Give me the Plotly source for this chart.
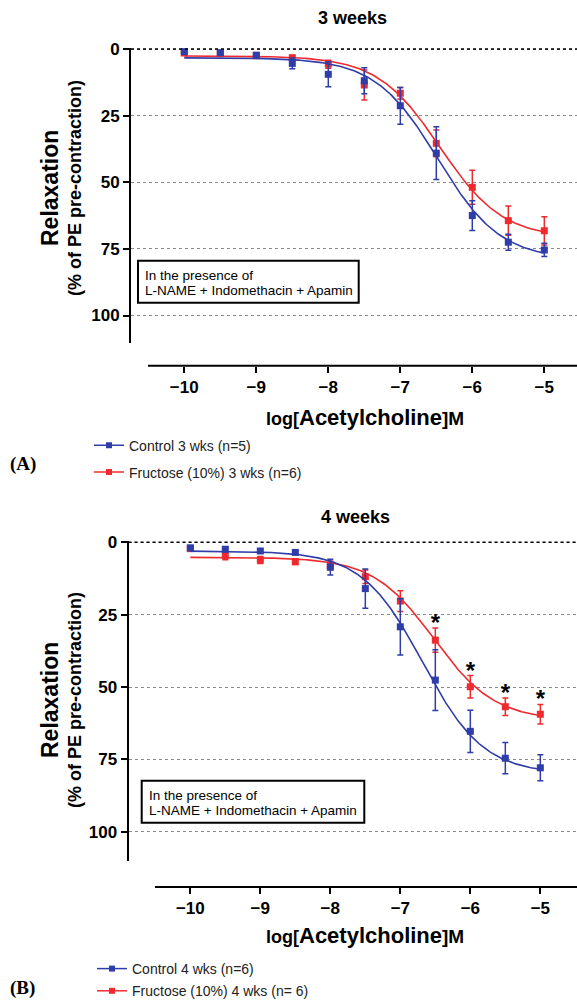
import numpy as np
import plotly.graph_objects as go

W, H = 577, 1001
FONT = "Liberation Sans, Arial, sans-serif"
BLUE = "#2E3DA8"
RED = "#EE2A2F"

# ---------------- data ----------------
conc = [-10, -9.5, -9, -8.5, -8, -7.5, -7, -6.5, -6, -5.5, -5]
xticks = [-10, -9, -8, -7, -6, -5]
yticks = [0, 25, 50, 75, 100]

ctrl3_mean = [1.0, 1.4, 2.3, 5.4, 9.5, 11.9, 21.3, 39.1, 62.5, 72.5, 75.4]
ctrl3_sem = [0.8, 0.8, 0.8, 2.0, 4.7, 4.9, 6.9, 9.9, 5.6, 3.0, 2.5]
fruc3_mean = [1.5, 1.8, 2.5, 3.3, 5.7, 13.5, 16.6, 35.4, 51.9, 64.4, 68.2]
fruc3_sem = [0.8, 0.8, 0.8, 1.0, 1.5, 5.6, 2.2, 5.0, 6.4, 5.5, 5.3]

ctrl4_mean = [1.9, 2.4, 3.0, 3.5, 8.6, 16.0, 29.2, 47.6, 65.3, 74.6, 77.9]
ctrl4_sem = [0.6, 0.6, 0.6, 0.6, 2.7, 6.8, 9.7, 10.5, 7.3, 5.4, 4.5]
fruc4_mean = [2.2, 4.6, 6.1, 6.7, 8.0, 11.9, 20.3, 33.8, 49.9, 56.8, 59.4]
fruc4_sem = [0.6, 1.4, 1.2, 1.0, 1.5, 2.3, 3.6, 4.2, 3.9, 3.05, 3.4]

# sigmoidal fit parameters (top, bottom, logEC50, hill)
ctrl3_fit = [3.3, 79.0, -6.48, 1.0]
fruc3_fit = [2.6, 71.0, -6.45, 1.0]
ctrl4_fit = [3.0, 80.0, -6.68, 1.0]
fruc4_fit = [5.2, 61.5, -6.52, 1.0]

sig4_idx = [7, 8, 9, 10]  # significant points (*) in 4 weeks panel

labels3 = ["Control 3 wks (n=5)", "Fructose (10%) 3 wks (n=6)"]
labels4 = ["Control 4 wks (n=6)", "Fructose (10%) 4 wks (n= 6)"]


def fit_curve(p, xs):
    top, bottom, ec50, hill = p
    xs = np.asarray(xs)
    return top + (bottom - top) / (1 + 10 ** ((ec50 - xs) * hill))


xfit = np.linspace(min(conc), max(conc), 300)

fig = go.Figure()


def add_panel(fig, xa, ya, c_mean, c_sem, f_mean, f_sem, c_fit, f_fit, labels, legend):
    for mean, sem, fit, color in [(f_mean, f_sem, f_fit, RED), (c_mean, c_sem, c_fit, BLUE)]:
        fig.add_trace(go.Scatter(x=xfit, y=fit_curve(fit, xfit), mode="lines",
                                 line=dict(color=color, width=1.6), xaxis=xa, yaxis=ya,
                                 showlegend=False, hoverinfo="skip"))
        fig.add_trace(go.Scatter(x=conc, y=mean, mode="markers",
                                 marker=dict(symbol="square", size=7, color=color),
                                 error_y=dict(type="data", array=sem, color=color,
                                              thickness=1.5, width=3),
                                 xaxis=xa, yaxis=ya, showlegend=False, cliponaxis=False))
    # legend entries
    for i, (lab, color) in enumerate(zip(labels, [BLUE, RED])):
        fig.add_trace(go.Scatter(x=[None], y=[None], mode="lines+markers", name=lab,
                                 line=dict(color=color, width=1.5),
                                 marker=dict(symbol="square", size=6, color=color),
                                 xaxis=xa, yaxis=ya, legend=legend,
                                 legendgroup=f"{legend}{i}", showlegend=True))


add_panel(fig, "x", "y", ctrl3_mean, ctrl3_sem, fruc3_mean, fruc3_sem,
          ctrl3_fit, fruc3_fit, labels3, "legend")
add_panel(fig, "x2", "y2", ctrl4_mean, ctrl4_sem, fruc4_mean, fruc4_sem,
          ctrl4_fit, fruc4_fit, labels4, "legend2")

# significance stars
fig.add_trace(go.Scatter(x=[conc[i] for i in sig4_idx],
                         y=[fruc4_mean[i] - fruc4_sem[i] - 1.0 for i in sig4_idx],
                         mode="text", text=["*"] * len(sig4_idx),
                         textposition="middle center",
                         textfont=dict(size=24, color="black", family=FONT, weight="bold"),
                         xaxis="x2", yaxis="y2", showlegend=False, cliponaxis=False))


def py(px):
    return 1 - px / H


def pxx(px):
    return px / W


xcommon = dict(tickvals=xticks, ticks="outside", ticklen=6, tickwidth=2, tickcolor="black",
               showline=False, showgrid=False, zeroline=False, anchor="free", automargin=False,
               tickfont=dict(size=17, color="black", family=FONT, weight="bold"))
ycommon = dict(tickvals=yticks, ticks="outside", ticklen=6, tickwidth=2, tickcolor="black",
               showline=True, linewidth=2, linecolor="black", showgrid=True, automargin=False,
               gridcolor="#8a8a8a", griddash="dot", gridwidth=1, zeroline=False,
               tickfont=dict(size=17, color="black", family=FONT, weight="bold"))

fig.update_layout(
    width=W, height=H, autosize=False,
    margin=dict(l=0, r=0, t=0, b=0, autoexpand=False),
    paper_bgcolor="white", plot_bgcolor="white",
    font=dict(family=FONT, color="black"),
    xaxis=dict(domain=[pxx(131), 1], range=[-10.740, -4.546], position=py(365.7), **xcommon),
    yaxis=dict(domain=[py(343.3), py(47.7)], range=[110.43, -0.49], anchor="x", **ycommon),
    xaxis2=dict(domain=[pxx(128.5), 1], range=[-10.883, -4.476], position=py(887), **xcommon),
    yaxis2=dict(domain=[py(861), py(540.7)], range=[110.1, -0.55], anchor="x2", **ycommon),
    legend=dict(x=pxx(89), y=py(429.7), xanchor="left", yanchor="top", itemwidth=30,
                font=dict(size=14, color="#222", family=FONT), bgcolor="rgba(0,0,0,0)",
                traceorder="grouped", tracegroupgap=5.6),
    legend2=dict(x=pxx(92), y=py(953), xanchor="left", yanchor="top", itemwidth=30,
                 font=dict(size=14, color="#222", family=FONT), bgcolor="rgba(0,0,0,0)",
                 traceorder="grouped", tracegroupgap=1.0),
)

shapes = []
anns = []
# x axis lines (offset Prism style) and dotted zero lines
for xaxis_start, ypos in [(148, 365.7), (155, 887)]:
    shapes.append(dict(type="line", xref="paper", yref="paper", x0=pxx(xaxis_start), x1=1,
                       y0=py(ypos), y1=py(ypos), line=dict(color="black", width=2)))
for xr, yr in [("x", "y"), ("x2", "y2")]:
    shapes.append(dict(type="line", xref=f"{xr} domain", yref=yr, x0=0, x1=1, y0=0, y1=0,
                       line=dict(color="black", width=1.5, dash="dot")))

# condition boxes
for (x0, x1, y0, y1) in [(138, 358.7, 260.7, 302.7), (141.7, 364.3, 780.7, 822.7)]:
    shapes.append(dict(type="rect", xref="paper", yref="paper", x0=pxx(x0), x1=pxx(x1),
                       y0=py(y0), y1=py(y1), line=dict(color="black", width=2),
                       fillcolor="rgba(0,0,0,0)"))
for (tx, ty1, ty2) in [(143, 275, 290.5), (146.5, 795, 810.5)]:
    anns.append(dict(text="In the presence of", x=pxx(tx), y=py(ty1), xref="paper", yref="paper",
                     xanchor="left", yanchor="middle", showarrow=False,
                     font=dict(size=13.5, color="black", family=FONT)))
    anns.append(dict(text="L-NAME + Indomethacin + Apamin", x=pxx(tx), y=py(ty2), xref="paper",
                     yref="paper", xanchor="left", yanchor="middle", showarrow=False,
                     font=dict(size=13.5, color="black", family=FONT)))

# titles
for t, tx, ty in [("3 weeks", 352, 18), ("4 weeks", 355, 517)]:
    anns.append(dict(text=f"<b>{t}</b>", x=pxx(tx), y=py(ty), xref="paper", yref="paper",
                     xanchor="center", yanchor="middle", showarrow=False,
                     font=dict(size=18, color="black", family=FONT)))

# x axis titles
xtitle = ("<b><span style='font-size:18px'>log[</span>Acetylcholine"
          "<span style='font-size:19px'>]M</span></b>")
for tx, ty in [(364.5, 417), (365, 935)]:
    anns.append(dict(text=xtitle, x=pxx(tx), y=py(ty), xref="paper", yref="paper",
                     xanchor="center", yanchor="middle", showarrow=False,
                     font=dict(size=22, color="black", family=FONT)))

# y axis titles
for cy in [188, 700]:
    anns.append(dict(text="<b>Relaxation</b>", x=pxx(50), y=py(cy), xref="paper", yref="paper",
                     xanchor="center", yanchor="middle", textangle=-90, showarrow=False,
                     font=dict(size=23, color="black", family=FONT)))
    anns.append(dict(text="<b>(% of PE pre-contraction)</b>", x=pxx(75), y=py(cy), xref="paper",
                     yref="paper", xanchor="center", yanchor="middle", textangle=-90,
                     showarrow=False, font=dict(size=18, color="black", family=FONT)))

# panel letters
for t, ty in [("(A)", 464), ("(B)", 988)]:
    anns.append(dict(text=f"<b>{t}</b>", x=pxx(8), y=py(ty), xref="paper", yref="paper",
                     xanchor="left", yanchor="middle", showarrow=False,
                     font=dict(size=19, color="black",
                               family="Liberation Serif, Times New Roman, serif")))

fig.update_layout(shapes=shapes, annotations=anns)
fig.write_html("out.html")
